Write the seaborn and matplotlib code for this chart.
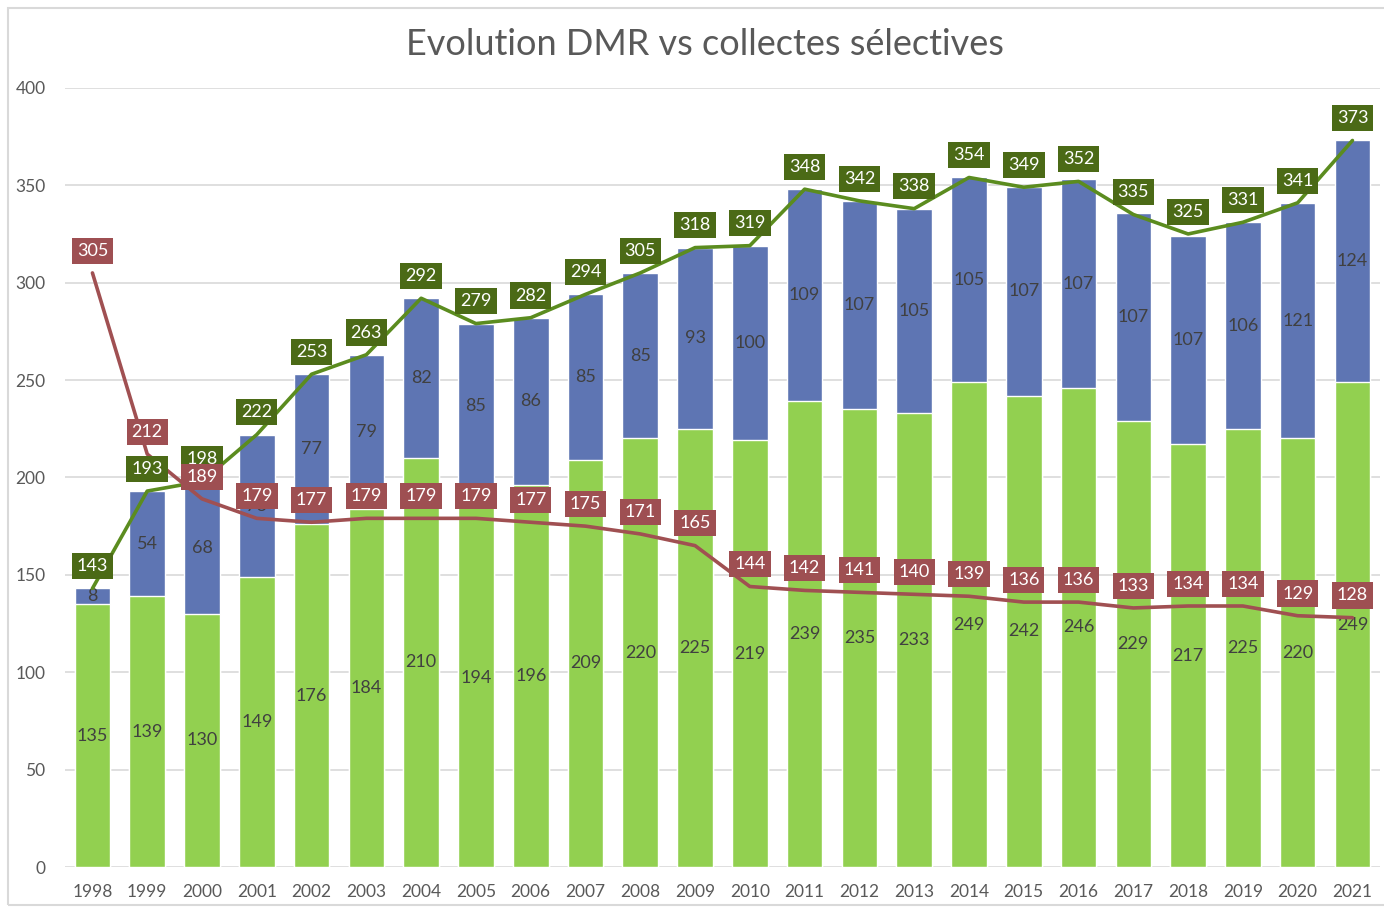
import numpy as np
import pandas as pd
import matplotlib.pyplot as plt
import seaborn as sns
from matplotlib.patches import Rectangle


years = [str(y) for y in range(1998, 2022)]
collectes_vertes = [135, 139, 130, 149, 176, 184, 210, 194, 196, 209, 220, 225,
                    219, 239, 235, 233, 249, 242, 246, 229, 217, 225, 220, 249]
collectes_bleues = [8, 54, 68, 73, 77, 79, 82, 85, 86, 85, 85, 93,
                    100, 109, 107, 105, 105, 107, 107, 107, 107, 106, 121, 124]
total_collectes = [143, 193, 198, 222, 253, 263, 292, 279, 282, 294, 305, 318,
                   319, 348, 342, 338, 354, 349, 352, 335, 325, 331, 341, 373]
dmr = [305, 212, 189, 179, 177, 179, 179, 179, 177, 175, 171, 165,
       144, 142, 141, 140, 139, 136, 136, 133, 134, 134, 129, 128]

df = pd.DataFrame({
    "annee": years,
    "vert": collectes_vertes,
    "bleu": collectes_bleues,
    "total": total_collectes,
    "dmr": dmr,
})
df["haut"] = df["vert"] + df["bleu"]

sns.set_style("white")
plt.rcParams['font.family'] = ['Lato', 'DejaVu Sans']

GREEN_BAR = "#92D050"
BLUE_BAR = "#5E75B3"
GREEN_LINE = "#5B8C1F"
GREEN_BOX = "#4B6A16"
RED_LINE = "#A05052"
RED_BOX = "#9E4F52"
TXT = "#404040"

fig = plt.figure(figsize=(13.84, 9.07), dpi=100)
ax = fig.add_axes([0.047, 0.0441, 0.950, 0.859])

# stacked bars: full height in blue, green part drawn on top
sns.barplot(data=df, x="annee", y="haut", color=BLUE_BAR, width=0.65,
            saturation=1, ax=ax, zorder=2)
sns.barplot(data=df, x="annee", y="vert", color=GREEN_BAR, width=0.65,
            saturation=1, ax=ax, zorder=2)

pos = np.arange(len(years))
sns.lineplot(x=pos, y=df["total"], color=GREEN_LINE, linewidth=2.6, ax=ax, zorder=4)
sns.lineplot(x=pos, y=df["dmr"], color=RED_LINE, linewidth=2.6, ax=ax, zorder=4)

# values inside bars
for i in range(len(years)):
    v = df["vert"][i]
    b = df["bleu"][i]
    ax.text(i, v / 2, str(v), ha="center", va="center", fontsize=13,
            color=TXT, zorder=3)
    ax.text(i, v + b / 2, str(b), ha="center", va="center", fontsize=13,
            color=TXT, zorder=3)

# boxed labels above the lines
for i in range(len(years)):
    ax.annotate(str(df["total"][i]), (i, df["total"][i]), xytext=(0, 16),
                textcoords="offset points", ha="center", va="center",
                fontsize=13, color="white", zorder=5,
                bbox=dict(boxstyle="square,pad=0.28", fc=GREEN_BOX, ec="none"))
for i in range(len(years)):
    ax.annotate(str(df["dmr"][i]), (i, df["dmr"][i]), xytext=(0, 16),
                textcoords="offset points", ha="center", va="center",
                fontsize=13, color="white", zorder=6,
                bbox=dict(boxstyle="square,pad=0.28", fc=RED_BOX, ec="none"))

ax.set_ylim(0, 400)
ax.set_xlim(-0.5, len(years) - 0.5)
ax.set_yticks(range(0, 401, 50))
ax.yaxis.grid(True, color="#D9D9D9", linewidth=1.2, zorder=0)
ax.set_axisbelow(True)
for s in ax.spines.values():
    s.set_visible(False)
ax.tick_params(axis="both", length=0, labelsize=12.5, labelcolor="#595959")
ax.tick_params(axis="y", pad=14)
ax.tick_params(axis="x", pad=12)
ax.set_xlabel("")
ax.set_ylabel("")

fig.text(0.509, 0.951, "Evolution DMR vs collectes sélectives", ha="center",
         va="center", fontsize=26, color="#595959")

fig.patches.append(Rectangle((8 / 1384, 2 / 907), 1.0, 897 / 907,
                             transform=fig.transFigure, fill=False,
                             ec="#D9D9D9", lw=1.5))

fig.savefig("out.png", dpi=100)
